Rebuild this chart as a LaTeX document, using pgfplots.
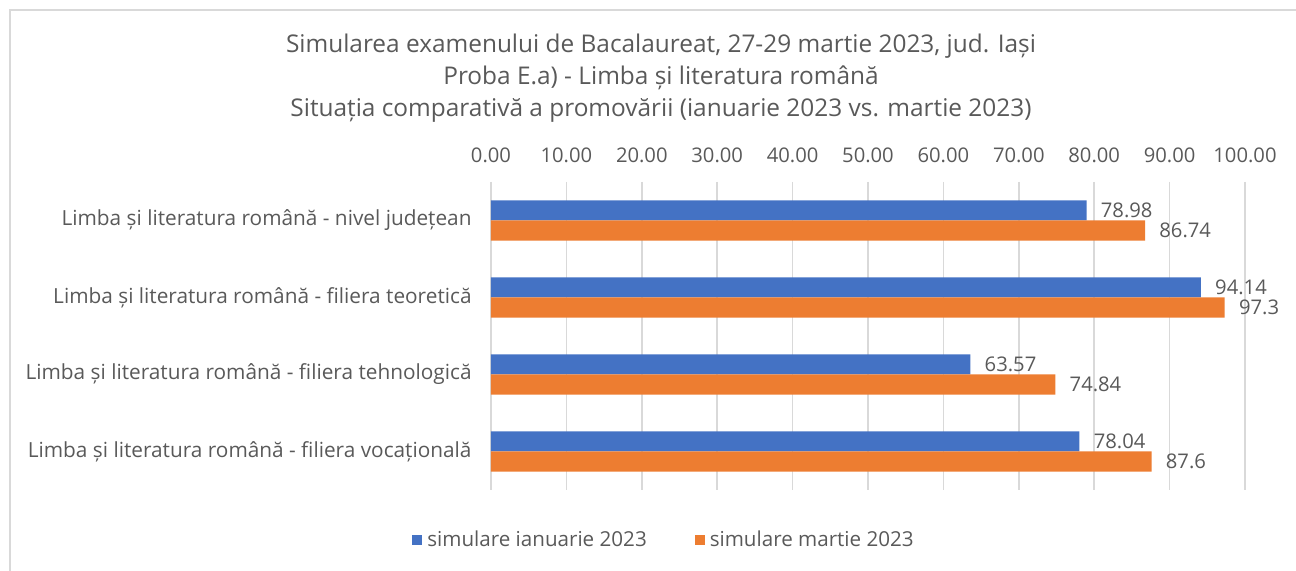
\documentclass[border=0pt]{standalone}
\usepackage{pgfplots}
\usepackage{pgfplotstable}
\pgfplotsset{compat=1.18}
\usepackage{fontspec}
\setmainfont{Open Sans}
\definecolor{txt}{HTML}{595959}
\definecolor{grd}{HTML}{D9D9D9}
\definecolor{cblue}{HTML}{4472C4}
\definecolor{corange}{HTML}{ED7D31}
\pgfplotstableread{
y jan mar
0 78.98 86.74
1 94.14 97.3
2 63.57 74.84
3 78.04 87.6
}\data
\begin{document}
\begin{tikzpicture}[x=1pt,y=1pt]
\useasboundingbox (0,0) rectangle (648,285.5);
\draw[grd, line width=0.75pt] (5,-10) |- (660,280.5);
\node[txt, font=\fontsize{12.2}{14}\selectfont] at (330.5,262.5) {Simularea examenului de Bacalaureat, 27-29 martie 2023, jud. Iași};
\node[txt, font=\fontsize{12.2}{14}\selectfont] at (330.5,246.5) {Proba E.a) - Limba și literatura română};
\node[txt, font=\fontsize{12.2}{14}\selectfont] at (330.5,230.5) {Situația comparativă a promovării (ianuarie 2023 vs. martie 2023)};
\begin{axis}[
  at={(245.5pt,40.5pt)}, anchor=south west,
  scale only axis, width=377pt, height=154pt,
  xmin=0, xmax=100, ymin=-0.5, ymax=3.5, y dir=reverse,
  xtick={0,10,...,100},
  xticklabel pos=upper,
  xmajorgrids, grid style={grd, line width=0.75pt},
  major tick length=0pt,
  axis line style={draw=none},
  ytick={0,1,2,3},
  yticklabels={Limba și literatura română - nivel județean, Limba și literatura română - filiera teoretică, Limba și literatura română - filiera tehnologică, Limba și literatura română - filiera vocațională},
  yticklabel style={txt, font=\fontsize{10.4}{12}\selectfont, anchor=east, inner sep=0pt, xshift=-9.5pt},
  xticklabel style={txt, font=\fontsize{10.1}{12}\selectfont, anchor=center, inner sep=0pt, yshift=13.5pt},
  /pgf/number format/.cd, fixed, fixed zerofill, precision=2, assume math mode=true,
  /pgfplots/.cd,
  xbar, bar width=0.26,
  point meta=explicit symbolic,
  nodes near coords,
  nodes near coords align=horizontal,
  every node near coord/.append style={txt, font=\fontsize{10.1}{12}\selectfont, anchor=west, inner sep=2pt, xshift=5pt},
  legend columns=2,
  legend style={at={(axis description cs:0.2308,-0.1623)}, anchor=center, draw=none, fill=none, font=\fontsize{10.3}{12}\selectfont, text=txt, inner sep=0pt, /tikz/every even column/.append style={column sep=22pt}, /tikz/every odd column/.append style={column sep=0.5pt}},
  legend image code/.code={\fill[#1] (0pt,-2.5pt) rectangle (5pt,2.5pt);},
]
\addplot[fill=cblue, draw=none, bar shift=-0.13] table[x=jan, y=y, meta=jan] {\data};
\addplot[fill=corange, draw=none, bar shift=0.13] table[x=mar, y=y, meta=mar] {\data};
\legend{simulare ianuarie 2023, simulare martie 2023}
\end{axis}
\end{tikzpicture}
\end{document}
